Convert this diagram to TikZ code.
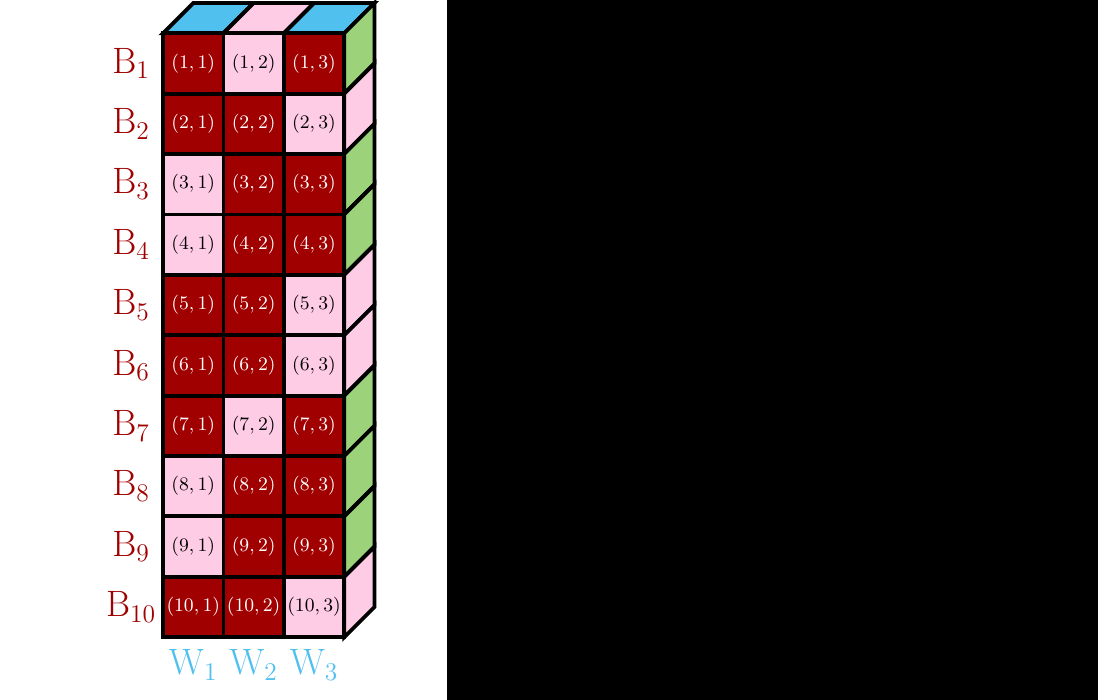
\documentclass[tikz,border=0pt]{standalone}
\usepackage{tikz}
\usepackage{xcolor}
\definecolor{blockred}{RGB}{160,0,0}
\definecolor{blockpink}{RGB}{255,204,230}
\definecolor{workerblue}{RGB}{80,192,238}
\definecolor{sidegreen}{RGB}{155,210,122}

\tikzset{
  cell/.style={draw, minimum size=1cm, inner sep=0pt, font=\small},
  hot/.style={cell, fill=blockred, text=white},
  cold/.style={cell, fill=blockpink, text=black},
}

\begin{document}
\begin{tikzpicture}[line width=1.8pt]
\fill[white] (0,0) rectangle (7.40,-11.59);
\fill[black] (7.40,0) rectangle (18.18,-11.59);
\useasboundingbox (0,0) rectangle (18.18,-11.59);

\begin{scope}[shift={(2.70,-0.55)}]
% top of the stack
\foreach \c/\col in {0/workerblue,1/blockpink,2/workerblue}
  \draw[fill=\col] (\c,0) -- (\c+0.5,0.5) -- (\c+1.5,0.5) -- (\c+1,0) -- cycle;

% front cells, side faces and row labels
\foreach \r/\a/\b/\c/\s in {1/hot/cold/hot/sidegreen,
                            2/hot/hot/cold/blockpink,
                            3/cold/hot/hot/sidegreen,
                            4/cold/hot/hot/sidegreen,
                            5/hot/hot/cold/blockpink,
                            6/hot/hot/cold/blockpink,
                            7/hot/cold/hot/sidegreen,
                            8/cold/hot/hot/sidegreen,
                            9/cold/hot/hot/sidegreen,
                            10/hot/hot/cold/blockpink}{
  \node[\a] (c\r-1) at (0.5,-\r+0.5) {$(\r,1)$};
  \node[\b] (c\r-2) at (1.5,-\r+0.5) {$(\r,2)$};
  \node[\c] (c\r-3) at (2.5,-\r+0.5) {$(\r,3)$};
  \draw[fill=\s] (3,-\r+1) -- (3.5,-\r+1.5) -- (3.5,-\r+0.5) -- (3,-\r) -- cycle;
  \node[font=\LARGE, text=blockred] (b\r) at (-0.53,-\r+0.5) {$\mathrm{B}_{\r}$};
}

% column labels
\foreach \w in {1,2,3}
  \node[font=\LARGE, text=workerblue] (w\w) at (\w-0.5,-10.46) {$\mathrm{W}_{\w}$};
\end{scope}
\end{tikzpicture}
\end{document}
